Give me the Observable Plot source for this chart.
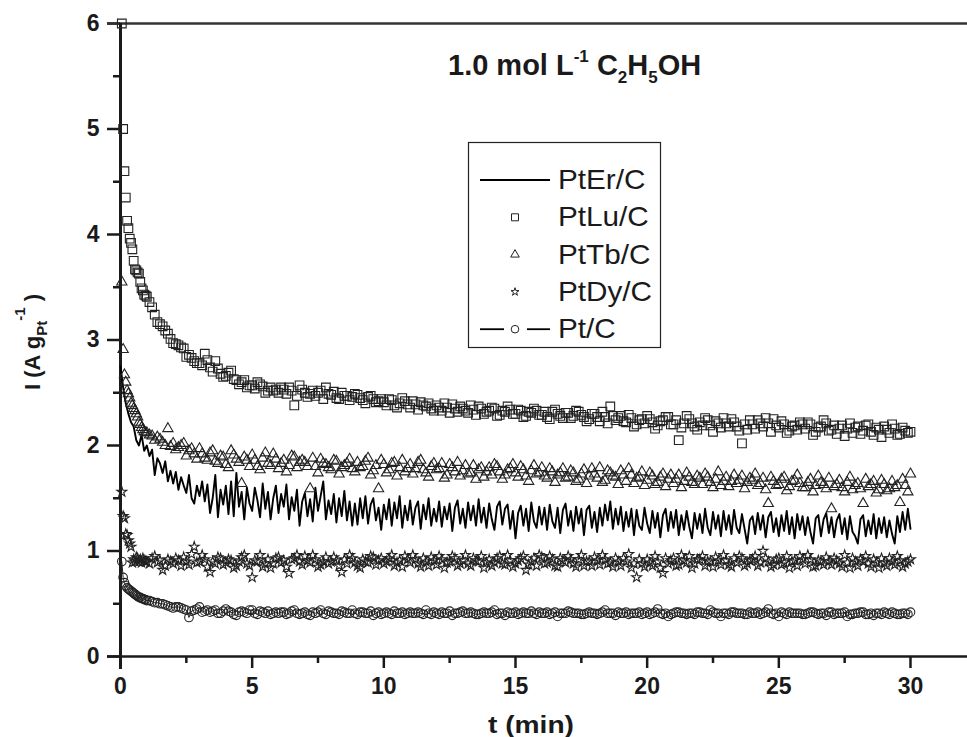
<!DOCTYPE html>
<html><head><meta charset="utf-8">
<script src="https://cdn.jsdelivr.net/npm/d3@7"></script>
<script src="https://cdn.jsdelivr.net/npm/@observablehq/plot@0.6"></script>
<style>html,body{margin:0;padding:0;background:#fff;} #chart{width:967px;height:737px;}</style>
</head><body><div id="chart"></div>
<script>
// ---------- data ----------
const seriesNames = ["PtEr/C", "PtLu/C", "PtTb/C", "PtDy/C", "Pt/C"];
const xTicks = [0, 5, 10, 15, 20, 25, 30];
const xMinorTicks = [2.5, 7.5, 12.5, 17.5, 22.5, 27.5];
const yTicks = [0, 1, 2, 3, 4, 5, 6];
const yMinorTicks = [0.5, 1.5, 2.5, 3.5, 4.5, 5.5];

// sampling times of the first minute (marker series)
const headT = [0.05,0.10,0.15,0.20,0.25,0.30,0.35,0.40,0.45,0.50,0.55,0.60,0.65,0.70,0.75,0.80,0.85,0.90,0.95];
// after the first minute: tail A at 1.0, 1.2, ... 30.0 ; tail B at 1.1, 1.3, ... 29.9
const tailAStart = 1.0, tailBStart = 1.1, tailStep = 0.2;
const erStep = 0.1;   // PtEr/C line sampling

// PtEr/C (line), t = 0 .. 30 every 0.1 min
const erI = [
2.75,2.55,2.40,2.30,2.22,2.18,2.05,2.00,2.10,1.95,
2.00,1.90,1.96,1.72,1.88,1.83,1.74,1.85,1.66,1.76,
1.64,1.75,1.58,1.70,1.62,1.55,1.72,1.50,1.45,1.62,
1.52,1.66,1.47,1.63,1.36,1.50,1.72,1.32,1.58,1.44,
1.62,1.35,1.66,1.33,1.74,1.42,1.56,1.30,1.60,1.45,
1.38,1.60,1.48,1.32,1.64,1.40,1.56,1.30,1.50,1.62,
1.36,1.54,1.42,1.63,1.30,1.51,1.38,1.58,1.24,1.47,
1.55,1.33,1.49,1.28,1.60,1.38,1.52,1.66,1.30,1.48,
1.35,1.54,1.27,1.50,1.33,1.57,1.29,1.47,1.24,1.45,
1.25,1.50,1.31,1.52,1.26,1.44,1.50,1.29,1.41,1.20,
1.44,1.30,1.49,1.24,1.46,1.31,1.52,1.22,1.43,1.29,
1.48,1.25,1.41,1.47,1.21,1.44,1.30,1.50,1.24,1.40,
1.28,1.47,1.23,1.42,1.30,1.45,1.19,1.41,1.48,1.26,
1.40,1.22,1.46,1.29,1.43,1.24,1.49,1.27,1.41,1.22,
1.45,1.30,1.20,1.42,1.47,1.25,1.40,1.44,1.21,1.38,
1.12,1.36,1.43,1.24,1.40,1.19,1.46,1.28,1.22,1.42,
1.25,1.41,1.20,1.44,1.28,1.22,1.41,1.17,1.39,1.45,
1.24,1.38,1.19,1.42,1.26,1.40,1.15,1.39,1.43,1.22,
1.37,1.18,1.41,1.24,1.44,1.29,1.47,1.21,1.40,1.25,
1.42,1.19,1.37,1.23,1.40,1.15,1.39,1.24,1.20,1.41,
1.26,1.17,1.38,1.22,1.36,1.13,1.34,1.40,1.19,1.37,
1.22,1.39,1.15,1.34,1.20,1.38,1.23,1.12,1.36,1.21,
1.35,1.17,1.40,1.22,1.15,1.37,1.21,1.34,1.14,1.38,
1.20,1.34,1.16,1.39,1.22,1.17,1.35,1.21,1.07,1.29,
1.33,1.16,1.36,1.20,1.34,1.13,1.32,1.37,1.18,1.31,
1.14,1.34,1.19,1.38,1.16,1.32,1.12,1.35,1.20,1.33,
1.15,1.32,1.18,1.07,1.31,1.34,1.14,1.30,1.36,1.17,
1.32,1.13,1.29,1.35,1.16,1.31,1.11,1.33,1.18,1.14,
1.07,1.30,1.34,1.14,1.29,1.16,1.35,1.12,1.31,1.17,
1.32,1.13,1.29,1.16,1.07,1.33,1.18,1.37,1.20,1.40,
1.21];

// PtLu/C (squares)
const luHead = [6.0,5.0,4.6,4.35,4.13,4.06,3.96,3.92,3.86,3.75,3.67,3.66,3.64,3.63,3.55,3.49,3.47,3.43,3.42];
const luTailA = [
3.41,3.31,3.17,3.13,3.06, 2.97,2.95,2.92,2.86,2.80, 2.78,2.87,2.74,2.80,2.68, 2.66,2.71,2.62,2.60,2.55,
2.57,2.60,2.56,2.52,2.52, 2.50,2.53,2.55,2.38,2.57, 2.50,2.49,2.47,2.52,2.55, 2.48,2.45,2.50,2.47,2.46,
2.48,2.43,2.46,2.44,2.42, 2.41,2.44,2.38,2.40,2.42, 2.36,2.39,2.41,2.37,2.35, 2.38,2.33,2.36,2.39,2.32,
2.35,2.31,2.34,2.37,2.30, 2.33,2.35,2.29,2.32,2.34, 2.30,2.33,2.28,2.31,2.33, 2.29,2.27,2.32,2.30,2.26,
2.31,2.28,2.32,2.27,2.25, 2.30,2.23,2.27,2.37,2.24, 2.28,2.22,2.26,2.20,2.25, 2.28,2.22,2.19,2.24,2.27,
2.20,2.05,2.21,2.25,2.18, 2.22,2.26,2.19,2.23,2.17, 2.21,2.25,2.18,2.02,2.15, 2.20,2.24,2.18,2.21,2.25,
2.17,2.20,2.14,2.19,2.22, 2.16,2.20,2.13,2.18,2.21, 2.15,2.11,2.19,2.16,2.12, 2.18,2.14,2.20,2.10,2.15,
2.18,2.12,2.16,2.11,2.14, 2.13];
const luTailB = [
3.36,3.24,3.15,3.09,3.01, 2.96,2.93,2.84,2.83,2.78, 2.76,2.81,2.70,2.73,2.65, 2.69,2.63,2.58,2.62,2.57,
2.54,2.58,2.50,2.55,2.53, 2.55,2.49,2.52,2.47,2.53, 2.46,2.52,2.50,2.44,2.49, 2.51,2.44,2.47,2.43,2.49,
2.45,2.40,2.47,2.41,2.44, 2.38,2.43,2.36,2.45,2.39, 2.42,2.34,2.38,2.40,2.33, 2.36,2.40,2.31,2.35,2.37,
2.33,2.38,2.29,2.35,2.32, 2.36,2.28,2.33,2.37,2.30, 2.34,2.27,2.32,2.35,2.29, 2.32,2.25,2.34,2.28,2.31,
2.26,2.33,2.29,2.23,2.30, 2.27,2.32,2.21,2.28,2.26, 2.23,2.29,2.18,2.24,2.21, 2.25,2.16,2.23,2.27,2.20,
2.24,2.17,2.28,2.21,2.15, 2.19,2.24,2.13,2.21,2.26, 2.18,2.22,2.14,2.20,2.24, 2.16,2.21,2.26,2.13,2.19,
2.23,2.12,2.18,2.15,2.20, 2.22,2.10,2.17,2.24,2.14, 2.19,2.16,2.09,2.21,2.17, 2.11,2.19,2.13,2.17,2.08,
2.15,2.20,2.10,2.17,2.12];

// PtTb/C (triangles)
const tbHead = [3.55,2.91,2.67,2.60,2.52,2.49,2.45,2.40,2.38,2.35,2.33,2.30,2.27,2.22,2.20,2.17,2.15,2.13,2.12];
const tbTailA = [
2.12,2.09,2.08,2.03,2.16, 2.02,1.98,2.02,1.95,1.92, 1.97,1.88,1.93,1.85,1.90, 1.82,1.95,1.87,1.64,1.86,
1.91,1.80,1.88,1.83,1.92, 1.78,1.86,1.81,1.89,1.84, 1.84,1.59,1.80,1.87,1.82, 1.77,1.85,1.79,1.83,1.78,
1.84,1.80,1.88,1.76,1.59, 1.82,1.77,1.84,1.79,1.75, 1.82,1.78,1.86,1.74,1.80, 1.77,1.83,1.72,1.79,1.84,
1.76,1.73,1.81,1.77,1.70, 1.79,1.82,1.75,1.72,1.78, 1.74,1.80,1.71,1.76,1.73, 1.79,1.69,1.75,1.72,1.78,
1.70,1.74,1.68,1.77,1.71, 1.73,1.79,1.67,1.74,1.70, 1.76,1.66,1.72,1.69,1.75, 1.67,1.71,1.65,1.73,1.68,
1.64,1.72,1.66,1.70,1.63, 1.69,1.73,1.65,1.68,1.62, 1.70,1.66,1.64,1.71,1.65, 1.67,1.62,1.69,1.45,1.66,
1.63,1.70,1.61,1.67,1.64, 1.60,1.68,1.62,1.65,1.59, 1.40,1.63,1.60,1.65,1.58, 1.64,1.45,1.61,1.66,1.58,
1.63,1.59,1.60,1.46,1.62, 1.73];
const tbTailB = [
2.10,2.05,2.06,2.00,1.99, 1.96,2.00,1.90,1.97,1.87, 1.92,1.86,1.95,1.83,1.89, 1.79,1.91,1.84,1.89,1.80,
1.86,1.77,1.93,1.81,1.87, 1.83,1.75,1.90,1.79,1.86, 1.80,1.88,1.74,1.83,1.79, 1.86,1.73,1.81,1.87,1.75,
1.79,1.85,1.72,1.81,1.86, 1.74,1.83,1.71,1.86,1.78, 1.73,1.84,1.77,1.70,1.83, 1.78,1.69,1.82,1.75,1.71,
1.81,1.74,1.68,1.79,1.75, 1.72,1.80,1.68,1.77,1.82, 1.70,1.77,1.66,1.81,1.74, 1.71,1.78,1.65,1.74,1.69,
1.76,1.66,1.73,1.64,1.78, 1.69,1.65,1.76,1.71,1.63, 1.72,1.78,1.64,1.70,1.62, 1.74,1.63,1.70,1.61,1.72,
1.68,1.60,1.74,1.65,1.71, 1.63,1.70,1.60,1.75,1.66, 1.61,1.72,1.67,1.59,1.69, 1.73,1.64,1.58,1.70,1.62,
1.68,1.57,1.66,1.72,1.60, 1.65,1.56,1.71,1.63,1.69, 1.61,1.67,1.56,1.70,1.62, 1.59,1.68,1.63,1.55,1.67,
1.57,1.66,1.62,1.68,1.56];

// PtDy/C (stars)
const dyHead = [1.56,1.33,1.31,1.16,1.15,1.10,1.07,1.04,0.89,0.92,0.90,0.94,0.93,0.90,0.92,0.89,0.93,0.91,0.90];
const dyTailA = [
0.90,0.93,0.89,0.82,0.92, 0.88,0.91,0.94,0.87,1.04, 0.90,0.92,0.80,0.88,0.93, 0.89,0.91,0.86,0.94,0.88,
0.75,0.90,0.85,0.92,0.88, 0.94,0.91,0.79,0.93,0.90, 0.95,0.89,0.92,0.87,0.94, 0.90,0.91,0.80,0.88,0.93,
0.86,0.92,0.89,0.94,0.91, 0.88,0.93,0.86,0.91,0.95, 0.89,0.92,0.85,0.90,0.94, 0.87,0.92,0.89,0.95,0.86,
0.91,0.88,0.93,0.90,0.84, 0.92,0.89,0.95,0.87,0.91, 0.88,0.93,0.82,0.90,0.86, 0.94,0.89,0.92,0.85,0.91,
0.95,0.88,0.92,0.86,0.90, 0.94,0.87,0.92,0.89,0.93, 0.86,0.90,0.84,0.75,0.88, 0.92,0.86,0.90,0.79,0.88,
0.93,0.87,0.91,0.95,0.88, 0.92,0.86,0.90,0.94,0.87, 0.91,0.85,0.89,0.93,0.88, 0.92,0.86,1.00,0.90,0.87,
0.93,0.89,0.84,0.91,0.95, 0.88,0.92,0.86,0.90,0.94, 0.87,0.91,0.85,0.89,0.93, 0.86,0.90,0.88,0.92,0.84,
0.89,0.93,0.87,0.91,0.88, 0.92];
const dyTailB = [
0.88,0.95,0.91,0.86,0.90, 0.93,0.86,0.90,0.97,0.89, 0.96,0.85,0.90,0.94,0.87, 0.92,0.84,0.90,0.96,0.86,
0.91,0.96,0.88,0.84,0.93, 0.89,0.85,0.92,0.96,0.87, 0.91,0.96,0.85,0.90,0.88, 0.94,0.86,0.92,0.96,0.89,
0.84,0.90,0.95,0.87,0.93, 0.90,0.96,0.89,0.85,0.92, 0.96,0.88,0.93,0.86,0.91, 0.95,0.84,0.90,0.93,0.88,
0.96,0.86,0.91,0.95,0.89, 0.86,0.93,0.88,0.96,0.85, 0.91,0.95,0.87,0.93,0.96, 0.88,0.95,0.86,0.93,0.89,
0.92,0.85,0.96,0.90,0.86, 0.91,0.96,0.88,0.85,0.90, 0.93,0.97,0.88,0.92,0.85, 0.89,0.95,0.84,0.93,0.91,
0.86,0.96,0.89,0.84,0.92, 0.95,0.90,0.85,0.91,0.96, 0.87,0.93,0.95,0.86,0.91, 0.95,0.89,0.93,0.85,0.92,
0.87,0.95,0.90,0.86,0.92, 0.96,0.85,0.91,0.87,0.90, 0.93,0.88,0.96,0.84,0.90, 0.92,0.95,0.85,0.89,0.93,
0.86,0.90,0.95,0.85,0.90];

// Pt/C (line + circles)
const ptHead = [0.90,0.75,0.70,0.67,0.65,0.64,0.63,0.62,0.61,0.60,0.59,0.58,0.57,0.56,0.56,0.55,0.55,0.54,0.54];
const ptTailA = [
0.53,0.52,0.51,0.50,0.48, 0.46,0.47,0.45,0.37,0.44, 0.47,0.43,0.42,0.44,0.41, 0.45,0.42,0.39,0.43,0.41,
0.44,0.40,0.42,0.43,0.41, 0.41,0.42,0.41,0.44,0.40, 0.42,0.39,0.41,0.44,0.40, 0.42,0.41,0.43,0.41,0.44,
0.40,0.42,0.41,0.39,0.42, 0.41,0.41,0.43,0.41,0.40, 0.42,0.41,0.41,0.44,0.40, 0.41,0.42,0.41,0.39,0.41,
0.43,0.41,0.41,0.40,0.42, 0.41,0.44,0.41,0.39,0.41, 0.42,0.41,0.41,0.43,0.40, 0.41,0.42,0.41,0.38,0.41,
0.43,0.41,0.41,0.40,0.42, 0.41,0.41,0.44,0.41,0.39, 0.41,0.42,0.41,0.41,0.40, 0.42,0.41,0.45,0.40,0.38,
0.41,0.42,0.41,0.41,0.40, 0.42,0.41,0.44,0.41,0.38, 0.41,0.42,0.41,0.41,0.40, 0.41,0.42,0.41,0.45,0.40,
0.38,0.41,0.42,0.41,0.41, 0.40,0.42,0.41,0.41,0.39, 0.42,0.41,0.41,0.38,0.40, 0.41,0.42,0.40,0.39,0.41,
0.42,0.40,0.41,0.40,0.41, 0.42];
const ptTailB = [
0.53,0.51,0.50,0.49,0.47, 0.47,0.46,0.44,0.43,0.45, 0.42,0.44,0.43,0.41,0.43, 0.43,0.40,0.42,0.42,0.44,
0.41,0.43,0.41,0.40,0.42, 0.42,0.40,0.43,0.41,0.41, 0.40,0.42,0.42,0.41,0.43, 0.41,0.40,0.42,0.41,0.41,
0.42,0.41,0.43,0.41,0.40, 0.42,0.40,0.41,0.42,0.41, 0.41,0.42,0.40,0.41,0.42, 0.40,0.41,0.43,0.41,0.42,
0.41,0.42,0.40,0.41,0.41, 0.42,0.40,0.41,0.42,0.41, 0.40,0.42,0.41,0.41,0.42, 0.41,0.40,0.42,0.41,0.41,
0.42,0.41,0.40,0.41,0.41, 0.40,0.42,0.41,0.41,0.42, 0.41,0.40,0.41,0.42,0.41, 0.40,0.42,0.41,0.41,0.40,
0.42,0.41,0.40,0.41,0.42, 0.41,0.40,0.42,0.41,0.41, 0.40,0.42,0.41,0.40,0.42, 0.41,0.40,0.42,0.41,0.41,
0.42,0.40,0.41,0.41,0.40, 0.41,0.42,0.40,0.41,0.42, 0.40,0.41,0.42,0.40,0.41, 0.42,0.40,0.41,0.41,0.40,
0.41,0.42,0.40,0.41,0.40];

// ---------- build tables ----------
const erData = erI.map((v, i) => ({t: +(i * erStep).toFixed(2), I: v}));
const build = (head, tailA, tailB) => [
  ...head.map((v, i) => ({t: headT[i], I: v})),
  ...tailA.map((v, i) => ({t: +(tailAStart + i * tailStep).toFixed(2), I: v})),
  ...tailB.map((v, i) => ({t: +(tailBStart + i * tailStep).toFixed(2), I: v}))
].sort((a, b) => a.t - b.t);
const luData = build(luHead, luTailA, luTailB);
const tbData = build(tbHead, tbTailA, tbTailB);
const dyData = build(dyHead, dyTailA, dyTailB);
const ptData = build(ptHead, ptTailA, ptTailB);

const FONT = "'Liberation Sans', Arial, Helvetica, sans-serif";
const INK = "#1a1a1a";
const mk = {x: "t", y: "I", fill: "none", stroke: "#222", strokeWidth: 1.1};

const chart = Plot.plot({
  width: 967, height: 737,
  marginLeft: 120, marginRight: 0, marginTop: 23, marginBottom: 81,
  style: {fontFamily: FONT, background: "white", color: INK, overflow: "visible"},
  x: {domain: [0, 32.165]},
  y: {domain: [0, 6]},
  marks: [
    Plot.axisX({ticks: xTicks, tickSize: 12, tickPadding: 9, fontSize: 23, fontWeight: "bold", strokeWidth: 2.5, tickFormat: d => String(d), label: null}),
    Plot.axisX({ticks: xMinorTicks, tickSize: 7, tickFormat: () => "", strokeWidth: 2.5, label: null}),
    Plot.axisY({ticks: yTicks, tickSize: 13, tickPadding: 8, fontSize: 23, fontWeight: "bold", strokeWidth: 2.5, tickFormat: d => String(d), label: null}),
    Plot.axisY({ticks: yMinorTicks, tickSize: 7, tickFormat: () => "", strokeWidth: 2.5, label: null}),
    Plot.ruleY([0], {insetLeft: -13, stroke: INK, strokeWidth: 2.5}),
    Plot.ruleY([6], {insetLeft: -13, stroke: "#333", strokeWidth: 2.5}),
    Plot.ruleX([0], {insetBottom: -13, stroke: INK, strokeWidth: 3}),
    Plot.line(ptData, {x: "t", y: "I", stroke: "#222", strokeWidth: 1}),
    Plot.dot(ptData, {...mk, symbol: "circle", r: 4.3}),
    Plot.dot(dyData, {...mk, symbol: "star", r: 3.1}),
    Plot.line(erData, {x: "t", y: "I", stroke: "#000", strokeWidth: 1.9}),
    Plot.dot(tbData, {...mk, symbol: "triangle", r: 3.8}),
    Plot.dot(luData, {...mk, symbol: "square", r: 4.9})
  ]
});
document.getElementById("chart").appendChild(chart);

// ---------- texts with sub/superscripts, legend ----------
const svg = d3.select(chart);

const title = svg.append("text").attr("x", 448).attr("y", 75).attr("text-anchor", "start")
  .attr("font-family", FONT).attr("font-size", 29).attr("font-weight", "bold").attr("fill", INK);
title.append("tspan").text("1.0 mol L");
title.append("tspan").attr("font-size", 17).attr("dy", -13).text("-1");
title.append("tspan").attr("dy", 13).text(" C");
title.append("tspan").attr("font-size", 17).attr("dy", 8).text("2");
title.append("tspan").attr("dy", -8).text("H");
title.append("tspan").attr("font-size", 17).attr("dy", 8).text("5");
title.append("tspan").attr("dy", -8).text("OH");

const yl = svg.append("text").attr("transform", "translate(40,390) rotate(-90)").attr("text-anchor", "start")
  .attr("font-family", FONT).attr("font-size", 22).attr("font-weight", "bold").attr("fill", INK);
yl.append("tspan").text("I (A g");
yl.append("tspan").attr("font-size", 15).attr("dy", 7).text("Pt");
yl.append("tspan").attr("font-size", 15).attr("dy", -22).text("-1");
yl.append("tspan").attr("dy", 15).text(" )");

svg.append("text").attr("x", 531).attr("y", 733).attr("text-anchor", "middle")
  .attr("font-family", FONT).attr("font-size", 24).attr("font-weight", "bold").attr("fill", INK)
  .attr("textLength", 86).attr("lengthAdjust", "spacingAndGlyphs")
  .text("t (min)");

// legend
const lg = svg.append("g").attr("font-family", FONT).attr("text-anchor", "start");
lg.append("rect").attr("x", 468.5).attr("y", 142.5).attr("width", 192).attr("height", 205)
  .attr("fill", "white").attr("stroke", "#222").attr("stroke-width", 1.2);
const rowY0 = 180, rowDy = 37.3, symX = 515, textX = 558;
const legendSymbols = [null, d3.symbolSquare, d3.symbolTriangle, d3.symbolStar, null];
const legendSizes = [0, 49, 32, 20, 0];
seriesNames.forEach((name, i) => {
  const y = rowY0 + i * rowDy;
  if (i === 0) {
    lg.append("line").attr("x1", 480).attr("x2", 550).attr("y1", y).attr("y2", y).attr("stroke", "#000").attr("stroke-width", 1.8);
  } else if (i === 4) {
    lg.append("line").attr("x1", 480).attr("x2", 504).attr("y1", y).attr("y2", y).attr("stroke", "#000").attr("stroke-width", 1.8);
    lg.append("line").attr("x1", 527).attr("x2", 550).attr("y1", y).attr("y2", y).attr("stroke", "#000").attr("stroke-width", 1.8);
    lg.append("circle").attr("cx", symX).attr("cy", y).attr("r", 3.8).attr("fill", "none").attr("stroke", "#222");
  } else {
    lg.append("path").attr("transform", `translate(${symX},${y})`)
      .attr("d", d3.symbol().type(legendSymbols[i]).size(legendSizes[i])())
      .attr("fill", "none").attr("stroke", "#222");
  }
  lg.append("text").attr("transform", `translate(${textX},${y + 9}) scale(1.1,1)`)
    .attr("font-size", 27).attr("fill", INK).text(name);
});
</script></body></html>
